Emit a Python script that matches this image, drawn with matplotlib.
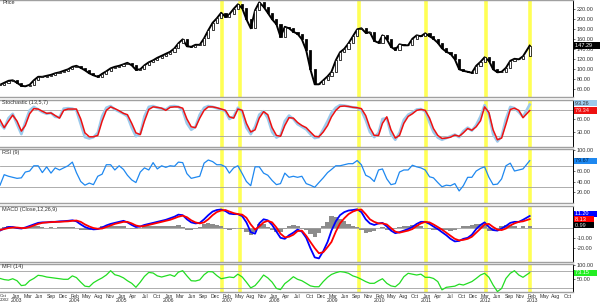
import numpy as np
import pandas as pd
import matplotlib
matplotlib.use('Agg')
import matplotlib.pyplot as plt
import matplotlib.transforms as mtrans

plt.rcParams['font.family'] = ['Liberation Sans', 'DejaVu Sans']

# ---------------- data (monthly samples) ----------------
dates = list(pd.date_range('2002-09-01', '2012-12-01', freq='MS')) + [pd.Timestamp('2013-01-18')]

price = [69, 73, 77, 78, 73, 67, 66, 69, 78, 85, 85, 87, 89, 92, 94, 97, 100, 105, 107, 103,
         98, 92, 88, 85, 91, 96, 102, 105, 107, 110, 113, 108, 99, 100, 108, 114, 118, 123, 127, 131,
         135, 142, 152, 160, 146, 145, 149, 149, 162, 178, 193, 202, 213, 205, 210, 221, 230, 222, 200, 182,
         218, 234, 225, 213, 200, 190, 165, 185, 182, 175, 171, 160, 138, 100, 70, 70, 78, 86, 95, 118,
         134, 141, 152, 166, 180, 182, 173, 174, 157, 153, 168, 160, 145, 139, 150, 148, 148, 161, 168, 166,
         172, 166, 161, 153, 142, 135, 131, 120, 100, 97, 95, 93, 107, 115, 124, 117, 100, 94, 95, 103,
         117, 121, 120, 126, 147.29]

stoch_d = [58, 40, 55, 69, 55, 32, 45, 72, 84, 83, 78, 73, 74, 68, 62, 80, 83, 83, 83, 60,
           28, 19, 19, 22, 55, 80, 88, 84, 79, 73, 70, 50, 28, 24, 55, 82, 88, 87, 85, 80,
           87, 88, 88, 85, 60, 42, 40, 62, 80, 88, 88, 86, 83, 80, 65, 62, 83, 80, 50, 30,
           35, 62, 77, 70, 40, 22, 20, 45, 63, 62, 52, 45, 40, 30, 20, 19, 30, 45, 65, 80,
           89, 90, 89, 87, 86, 84, 68, 40, 22, 22, 50, 65, 35, 16, 22, 50, 66, 72, 80, 82,
           80, 62, 38, 22, 15, 16, 18, 23, 20, 28, 38, 34, 42, 56, 88, 75, 35, 12, 16, 48,
           82, 85, 80, 63, 79.34]

stoch_k = [50, 38, 62, 72, 48, 25, 52, 80, 88, 82, 76, 72, 74, 65, 64, 84, 85, 84, 80, 48,
           18, 15, 18, 28, 66, 86, 90, 82, 77, 72, 66, 40, 20, 26, 66, 88, 90, 86, 84, 82,
           89, 90, 88, 80, 50, 35, 42, 70, 86, 90, 88, 85, 82, 78, 60, 66, 86, 76, 40, 25,
           42, 70, 78, 62, 30, 17, 22, 55, 68, 60, 48, 42, 36, 25, 16, 18, 36, 55, 74, 86,
           92, 91, 89, 87, 86, 80, 58, 30, 18, 28, 60, 62, 25, 12, 28, 58, 70, 75, 82, 83,
           78, 52, 30, 17, 12, 16, 20, 24, 18, 32, 40, 33, 46, 66, 92, 70, 25, 8, 20, 60,
           88, 85, 76, 65, 93.26]

rsi = [33, 53, 50, 48, 46, 47, 58, 60, 70, 70, 57, 68, 56, 66, 62, 66, 70, 77, 57, 40,
       33, 37, 34, 50, 54, 72, 72, 62, 70, 63, 52, 43, 38, 58, 66, 62, 76, 64, 70, 67,
       70, 69, 77, 76, 55, 46, 48, 50, 75, 81, 78, 72, 72, 68, 56, 66, 70, 55, 40, 32,
       68, 68, 56, 52, 42, 34, 36, 56, 48, 50, 48, 50, 36, 33, 29, 38, 47, 57, 63, 70,
       70, 72, 74, 74, 80, 72, 52, 48, 40, 62, 64, 45, 34, 36, 58, 62, 62, 71, 68, 66,
       62, 49, 47, 38, 30, 33, 32, 36, 22, 32, 48, 48, 60, 65, 68, 48, 34, 35, 45, 70,
       75, 60, 62, 64, 79.67]

macd = [-3, -1, 0.5, 0.5, -0.5, -1, 0, 1.5, 3, 4.5, 5, 5, 5.5, 5.5, 6, 6.2, 6.5, 7, 6, 3,
        0.5, -1, -1.8, -1.5, 0, 2, 3.5, 4.5, 5.5, 6.5, 5, 2.5, 0.5, 1, 2.5, 3.5, 4.5, 5.5, 6.5, 7.5,
        9, 10.5, 12.5, 12, 8, 5, 4, 4.5, 8, 12, 15.5, 17, 17.5, 16, 13.5, 13, 13, 11, 5, -4.5,
        -6, 4, 8, 7, 2.5, -4, -10, -11, -7.5, -5, -2, -4, -10, -20, -29, -30, -23, -14, -3, 6,
        12, 15, 16.5, 17, 17.7, 15, 8, 4, 2.5, 4, 4.5, 1, -3, -5.5, -4.5, -3, -1.5, 0.5, 3.5, 5.5,
        5.5, 3.5, 1, -1.5, -4.5, -7.5, -11, -13.5, -13, -11, -10, -7, -1.5, 2.5, 5, 0.5, -2.5, -3, -1, 1.5,
        4.5, 5.5, 5.5, 7.5, 11.2]

signal = [-2.4, -1.5, -0.5, 0, 0, -0.5, -0.5, 0.5, 2, 3.5, 4.5, 5, 5.2, 5.5, 5.5, 5.8, 6, 6.5, 6.8, 5.5,
          3, 1, -0.5, -1.2, -1, 0.5, 2, 3.5, 4.5, 5.5, 5.5, 4, 2, 1, 1.5, 2.5, 3.5, 4.5, 5.5, 6.5,
          7.5, 9, 10.5, 11.5, 10, 7, 5, 4, 5, 8, 12, 15, 16.5, 17, 15.5, 14, 13, 12.5, 9.5, 3,
          -2, 1, 5, 6.5, 5, 0, -6, -9.5, -9, -7, -3.5, -3, -8, -14, -20, -25, -24, -19, -14, -4,
          4, 9, 13, 15.5, 17, 17.5, 13, 8, 5.5, 4, 4, 3, -0.5, -4, -5, -4, -3, -1.5, 1.5, 4,
          5.5, 5, 3, 0.5, -2, -5, -8, -11, -12.5, -12, -11, -9, -5, -1, 3, 3.5, 0.5, -2, -2.5, -1,
          2, 4, 5.5, 6, 8.13]

hist = [-0.5, 0.5, 1, 0.5, -0.5, -0.5, 0.5, 1, 1, 1, 0.5, 0, 0.3, 0, 0.5, 0.4, 0.5, 0.5, -0.8, -2.5,
        -2.5, -2, -1.3, -0.3, 1, 1.5, 1.5, 1, 1, 1, -0.5, -1.5, -1.5, 0, 1, 1, 1, 1, 1, 1,
        1.5, 1.5, 2, 0.5, -2, -2, -1, 0.5, 3, 4, 3.5, 2, 1, -1, -2, -1, 0, -1.5, -4.5, -7.5,
        -4, 3, 3, 0.5, -2.5, -4, -4, -1.5, 1.5, 2, 1.5, -1, -2, -6, -9, -5, 1, 5, 11, 10,
        8, 6, 3.5, 1.5, 0.7, -2.5, -5, -4, -3, 0, 0.5, -2, -2.5, -1.5, 0.5, 1, 1.5, 2, 2, 1.5,
        0, -1.5, -2, -2, -2.5, -2.5, -3, -2.5, -0.5, 1, 1, 2, 3.5, 3.5, 2, -3, -3, -1, 1.5, 2.5,
        2.5, 1.5, 0, 1.5, 0.99]

mfi = [53, 49, 47, 52, 45, 28, 30, 45, 53, 64, 62, 58, 56, 54, 52, 50, 50, 62, 56, 40,
       26, 24, 38, 47, 55, 65, 80, 66, 62, 55, 45, 36, 22, 40, 60, 74, 72, 62, 58, 62,
       66, 60, 75, 80, 62, 45, 44, 48, 66, 77, 76, 63, 52, 55, 58, 56, 68, 58, 40, 20,
       28, 45, 65, 55, 40, 18, 14, 35, 46, 59, 50, 45, 36, 27, 24, 24, 42, 57, 67, 73,
       77, 75, 71, 62, 57, 50, 42, 36, 36, 45, 52, 36, 27, 24, 36, 59, 71, 68, 65, 68,
       57, 57, 53, 42, 13, 22, 24, 26, 33, 30, 36, 42, 53, 65, 71, 57, 30, 7, 18, 53,
       71, 80, 65, 57, 73.15]

signal_dates = ['2007-01-06', '2007-05-19', '2009-09-16', '2011-01-07', '2012-03-11', '2013-01-18']

month_labels = ['Oct', 'Jan', 'Mar', 'Jun', 'Sep', 'Dec', 'Feb', 'May', 'Aug', 'Nov',
                'Jan', 'Apr', 'Jul', 'Oct', 'Jan', 'Mar', 'Jun', 'Sep', 'Dec', 'Feb',
                'May', 'Aug', 'Nov', 'Jan', 'Apr', 'Jul', 'Oct', 'Dec', 'Mar', 'Jun',
                'Sep', 'Nov', 'Feb', 'May', 'Aug', 'Oct', 'Jan', 'Apr', 'Jul', 'Oct',
                'Dec', 'Mar', 'Jun', 'Sep', 'Nov', 'Feb', 'May', 'Aug', 'Oct']
year_labels = {0: '2002', 1: '2003', 6: '2004', 10: '2005', 14: '2006', 19: '2007',
               23: '2008', 28: '2009', 32: '2010', 36: '2011', 41: '2012', 45: '2013'}

# ---------------- figure ----------------
W, H = 600, 307
fig = plt.figure(figsize=(W / 100, H / 100), dpi=100)
RIGHT = 573


def add_ax(top, bot):
    return fig.add_axes([0, 1 - bot / H, RIGHT / W, (bot - top) / H])


ax_p = add_ax(0, 97)
ax_s = add_ax(100, 147)
ax_r = add_ax(149, 203)
ax_m = add_ax(206, 262)
ax_f = add_ax(264, 292)
axes = [ax_p, ax_s, ax_r, ax_m, ax_f]

x = pd.to_datetime(dates)
xmin, xmax = pd.Timestamp('2002-09-01'), pd.Timestamp('2013-11-24')
FS = 4.0
XFS = 3.7

for ax in axes:
    ax.set_xlim(xmin, xmax)
    ax.set_facecolor('white')
    ax.spines['left'].set_visible(False)
    ax.spines['right'].set_color('black')
    ax.spines['right'].set_linewidth(0.7)
    for s in ('top', 'bottom'):
        ax.spines[s].set_color('#a0a0a0')
        ax.spines[s].set_linewidth(1.0)
    ax.yaxis.tick_right()
    ax.tick_params(axis='y', labelsize=FS, length=1.5, width=0.5, pad=1, colors='#333333')
    ax.tick_params(axis='x', length=0, labelbottom=False)
    ax.set_xticks([])
    ax.yaxis.set_major_formatter(matplotlib.ticker.FormatStrFormatter('%.2f'))
    for d in signal_dates:
        ax.axvline(pd.Timestamp(d), color='#ffff55', lw=2.6, zorder=1)

# ---- price candles (open = previous close) ----
ax_p.plot(x, price, color='black', lw=1.4, zorder=2)
opens = [price[0]] + price[:-1]
for xi, o, c in zip(x, opens, price):
    up = c >= o
    lo, hi = min(o, c), max(o, c)
    if hi - lo < 1.0:
        hi = lo + 1.0
    ax_p.bar(xi, hi - lo, bottom=lo, width=15, color='white' if up else 'black',
             edgecolor='black', linewidth=0.55, zorder=3)
ax_p.set_ylim(44.6, 238.6)
ax_p.set_yticks([60, 80, 100, 120, 140, 160, 180, 200, 220])
ax_p.text(0.004, 0.995, 'Price', transform=ax_p.transAxes, fontsize=FS, va='top', ha='left', color='#333333')

# ---- stochastic ----
ax_s.plot(x, stoch_k, color='#9ccaec', lw=1.9, zorder=3)
ax_s.plot(x, stoch_d, color='#ee1111', lw=1.1, zorder=4)
ax_s.set_ylim(-4.7, 103.9)
ax_s.set_yticks([30, 60])
for lv in (20, 80):
    ax_s.axhline(lv, color='#a0a0a0', lw=0.6, zorder=2)
ax_s.text(0.004, 0.99, 'Stochastic (13,5,7)', transform=ax_s.transAxes, fontsize=FS, va='top', ha='left', color='#333333')

# ---- RSI ----
ax_r.plot(x, rsi, color='#1e88f0', lw=0.9, zorder=3)
ax_r.set_ylim(-1, 102)
ax_r.set_yticks([20, 40, 60, 100])
for lv in (30, 70):
    ax_r.axhline(lv, color='#a0a0a0', lw=0.6, zorder=2)
ax_r.text(0.004, 0.99, 'RSI (9)', transform=ax_r.transAxes, fontsize=FS, va='top', ha='left', color='#333333')

# ---- MACD ----
ax_m.bar(x, hist, width=31, color='#8c8c8c', edgecolor='none', zorder=2)
ax_m.axhline(0, color='#a0a0a0', lw=0.6, zorder=2)
ax_m.plot(x, macd, color='#0000ff', lw=1.3, zorder=3)
ax_m.plot(x, signal, color='#ff0000', lw=1.3, zorder=4)
ax_m.set_ylim(-33.5, 20.9)
ax_m.set_yticks([-20, -10])
ax_m.text(0.004, 0.99, 'MACD (Close,12,26,9)', transform=ax_m.transAxes, fontsize=FS, va='top', ha='left', color='#333333')

# ---- MFI ----
ax_f.plot(x, mfi, color='#22dd22', lw=0.9, zorder=3)
ax_f.set_ylim(5.6, 103.5)
ax_f.set_yticks([50, 100])
for lv in (20, 80):
    ax_f.axhline(lv, color='#a0a0a0', lw=0.6, zorder=2)
ax_f.text(0.004, 0.99, 'MFI (14)', transform=ax_f.transAxes, fontsize=FS, va='top', ha='left', color='#333333')

# ---- x axis labels (drawn as texts under the bottom panel) ----
tick_pos = [pd.Timestamp('2002-10-02') + pd.Timedelta(days=84 * k) for k in range(len(month_labels))]
trx = mtrans.blended_transform_factory(ax_f.transData, ax_f.transAxes)
for k, (pos, m) in enumerate(zip(tick_pos, month_labels)):
    txt = m + ('\n' + year_labels[k] if k in year_labels else '')
    if k == 0:
        ax_f.text(xmin, -0.06, txt, transform=trx, fontsize=3.2, ha='left', va='top',
                  color='#333333', linespacing=0.95, clip_on=False)
    else:
        ax_f.text(pos, -0.06, txt, transform=trx, fontsize=XFS, ha='center', va='top',
                  color='#333333', linespacing=0.95, clip_on=False)


# ---- last-value boxes ----
def box(ax, val, text, fc, tc, dy=0):
    tr = mtrans.blended_transform_factory(ax.transAxes, ax.transData)
    ax.annotate(text + '     ', xy=(1.0, val), xycoords=tr, xytext=(1.5, dy), textcoords='offset points',
                fontsize=FS, va='center', ha='left', color=tc, annotation_clip=False,
                bbox=dict(boxstyle='square,pad=0.12', fc=fc, ec='none'), zorder=10)


box(ax_p, price[-1], '%.2f' % price[-1], 'black', 'white')
box(ax_s, stoch_k[-1], '%.2f' % stoch_k[-1], '#9ccaec', '#333333', dy=1)
box(ax_s, stoch_d[-1], '%.2f' % stoch_d[-1], '#ee1111', '#ffdddd')
box(ax_r, rsi[-1], '%.2f' % rsi[-1], '#1e88f0', '#00264d')
box(ax_m, macd[-1], '%.2f' % macd[-1], '#0000ff', '#ffffff', dy=1.5)
box(ax_m, signal[-1], '%.2f' % signal[-1], '#ff0000', '#ffffff', dy=0)
box(ax_m, hist[-1], '%.2f' % hist[-1], 'black', '#dddddd', dy=1)
box(ax_f, mfi[-1], '%.2f' % mfi[-1], '#22ee22', '#ffffff')

fig.savefig('out.png', dpi=100, facecolor='white')
